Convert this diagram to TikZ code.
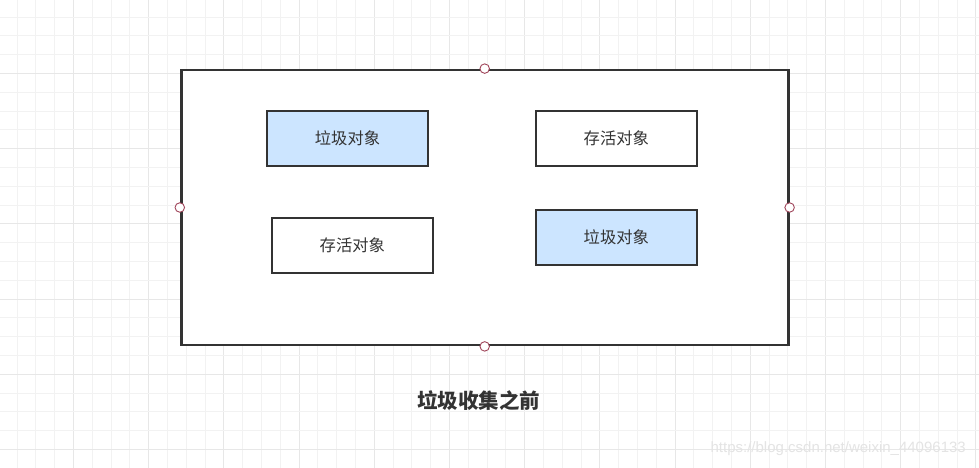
\documentclass[tikz,border=0pt]{standalone}
\usepackage{fontspec}
\newfontfamily\cjk{Noto Sans CJK SC}
\setsansfont{Liberation Sans}
\definecolor{gridminor}{HTML}{F2F2F2}
\definecolor{gridmajor}{HTML}{E7E7E7}
\definecolor{edge}{HTML}{333333}
\definecolor{garbage}{HTML}{CCE5FF}
\definecolor{handle}{HTML}{A0455A}
\definecolor{wm}{HTML}{E4E4E4}
\tikzset{
  objbox/.style={draw=edge, line width=2.6pt, minimum width=161pt, minimum height=55pt, inner sep=0pt, font=\cjk\fontsize{16.3}{18}\selectfont, text=edge},
  garbagebox/.style={objbox, fill=garbage},
  alivebox/.style={objbox, fill=white},
  handlept/.style={circle, draw=handle, fill=white, line width=0.9pt, minimum size=9.5pt, inner sep=0pt},
}
\begin{document}
\begin{tikzpicture}[x=1pt,y=-1pt]
\useasboundingbox (0,0) rectangle (979,468);
\fill[white] (0,0) rectangle (979,468);
% grid
\foreach \i in {-4,...,48} {
  \pgfmathsetmacro{\xx}{73.5+18.8*\i}
  \pgfmathtruncatemacro{\m}{mod(\i+400,4)}
  \ifnum\m=0
    \draw[gridmajor, line width=1pt] (\xx,0) -- (\xx,468);
  \else
    \draw[gridminor, line width=1pt] (\xx,0) -- (\xx,468);
  \fi
}
\foreach \i in {-4,...,22} {
  \pgfmathsetmacro{\yy}{73.5+18.8*\i}
  \pgfmathtruncatemacro{\m}{mod(\i+400,4)}
  \ifnum\m=0
    \draw[gridmajor, line width=1pt] (0,\yy) -- (979,\yy);
  \else
    \draw[gridminor, line width=1pt] (0,\yy) -- (979,\yy);
  \fi
}
% container
\node[draw=edge, fill=white, line width=2.8pt, minimum width=607pt, minimum height=275pt, inner sep=0pt] (heap) at (484.7,207.5) {};
% boxes
\node[garbagebox] (g1) at (347.5,138.5) {垃圾对象};
\node[alivebox] (a1) at (616.3,138.5) {存活对象};
\node[alivebox] (a2) at (352.3,245.3) {存活对象};
\node[garbagebox] (g2) at (616.3,237.5) {垃圾对象};
% handles
\node[handlept] (hn) at (heap.north) {};
\node[handlept] (hs) at (heap.south) {};
\node[handlept] (hw) at (heap.west) {};
\node[handlept] (he) at (heap.east) {};
% caption
\node[font=\cjk\bfseries\fontsize{20.5}{22}\selectfont, text=edge] (cap) at (478.5,401) {垃圾收集之前};
% watermark
\node[anchor=east, font=\sffamily\fontsize{15}{16}\selectfont, text=wm, inner sep=0pt] (wmk) at (966,449) {https://blog.csdn.net/weixin\_44096133};
\end{tikzpicture}
\end{document}
